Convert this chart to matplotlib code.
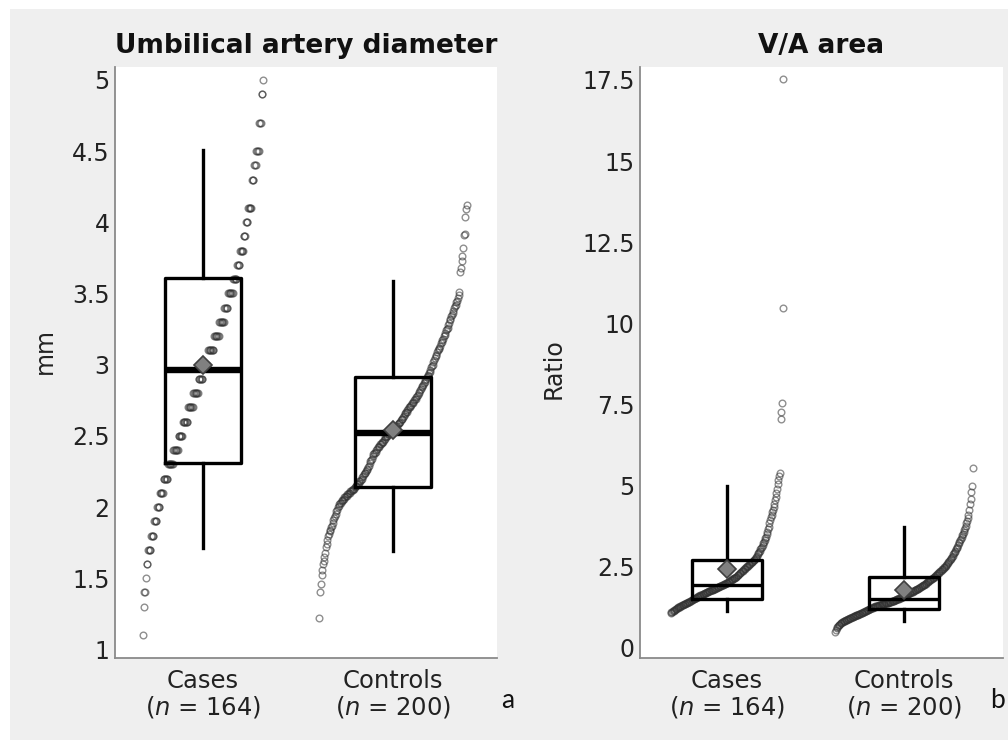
import numpy as np
import matplotlib
matplotlib.use('Agg')
import matplotlib.pyplot as plt
from matplotlib.patches import Rectangle

plt.rcParams['font.family'] = ['DejaVu Sans']
plt.rcParams['mathtext.fontset'] = 'dejavusans'

groups = ['Cases\n($\\it{n}$ = 164)', 'Controls\n($\\it{n}$ = 200)']

# --- umbilical artery diameter (mm), cases: 0.1 mm levels and how many points sit on each
ua_cases_levels = [1.1, 1.3, 1.4, 1.5, 1.6, 1.7, 1.8, 1.9, 2.0, 2.1, 2.2, 2.3, 2.4, 2.5, 2.6, 2.7,
                   2.8, 2.9, 3.0, 3.1, 3.2, 3.3, 3.4, 3.5, 3.6, 3.7, 3.8, 3.9, 4.0, 4.1, 4.3, 4.4,
                   4.5, 4.7, 4.9, 5.0]
ua_cases_counts = [1, 1, 2, 1, 2, 4, 4, 4, 4, 5, 6, 7, 7, 6, 7, 7,
                   7, 6, 7, 8, 7, 7, 5, 7, 5, 4, 5, 3, 3, 5, 3, 3,
                   4, 3, 2, 1]

# --- umbilical artery diameter (mm), controls, sorted
ua_controls = [
    1.22, 1.40, 1.46, 1.52, 1.56, 1.60, 1.62, 1.65, 1.68, 1.72,
    1.74, 1.77, 1.80, 1.81, 1.83, 1.84, 1.86, 1.87, 1.89, 1.91,
    1.92, 1.94, 1.95, 1.97, 1.98, 2.00, 2.01, 2.02, 2.03, 2.03,
    2.04, 2.05, 2.05, 2.06, 2.07, 2.07, 2.08, 2.08, 2.09, 2.09,
    2.10, 2.10, 2.11, 2.11, 2.12, 2.12, 2.13, 2.13, 2.14, 2.15,
    2.15, 2.16, 2.16, 2.17, 2.18, 2.18, 2.19, 2.20, 2.21, 2.22,
    2.23, 2.24, 2.24, 2.25, 2.26, 2.27, 2.28, 2.29, 2.31, 2.32,
    2.33, 2.34, 2.36, 2.37, 2.38, 2.38, 2.39, 2.40, 2.41, 2.42,
    2.42, 2.43, 2.44, 2.44, 2.45, 2.46, 2.46, 2.47, 2.48, 2.49,
    2.49, 2.50, 2.50, 2.51, 2.51, 2.52, 2.52, 2.53, 2.53, 2.54,
    2.54, 2.55, 2.55, 2.56, 2.57, 2.57, 2.58, 2.59, 2.59, 2.60,
    2.61, 2.62, 2.62, 2.63, 2.64, 2.65, 2.66, 2.67, 2.67, 2.68,
    2.69, 2.70, 2.70, 2.71, 2.72, 2.73, 2.73, 2.74, 2.75, 2.76,
    2.76, 2.77, 2.78, 2.79, 2.80, 2.81, 2.82, 2.83, 2.84, 2.85,
    2.86, 2.87, 2.88, 2.89, 2.90, 2.91, 2.92, 2.93, 2.94, 2.95,
    2.96, 2.98, 2.99, 3.00, 3.02, 3.03, 3.05, 3.06, 3.07, 3.09,
    3.10, 3.11, 3.12, 3.13, 3.15, 3.16, 3.17, 3.18, 3.20, 3.21,
    3.22, 3.24, 3.25, 3.26, 3.28, 3.29, 3.31, 3.32, 3.34, 3.35,
    3.36, 3.38, 3.40, 3.41, 3.42, 3.44, 3.45, 3.47, 3.49, 3.51,
    3.65, 3.68, 3.73, 3.76, 3.82, 3.91, 3.92, 4.04, 4.09, 4.12,
]

# --- V/A area ratio, cases, sorted
va_cases = [
    1.07, 1.10, 1.12, 1.14, 1.15, 1.17, 1.18, 1.20, 1.21, 1.22,
    1.24, 1.25, 1.26, 1.27, 1.28, 1.30, 1.31, 1.32, 1.33, 1.34,
    1.35, 1.36, 1.37, 1.38, 1.40, 1.41, 1.42, 1.43, 1.44, 1.45,
    1.47, 1.48, 1.50, 1.51, 1.52, 1.53, 1.54, 1.55, 1.56, 1.58,
    1.59, 1.60, 1.61, 1.62, 1.63, 1.64, 1.65, 1.66, 1.67, 1.68,
    1.69, 1.70, 1.71, 1.72, 1.73, 1.74, 1.75, 1.76, 1.77, 1.78,
    1.79, 1.80, 1.81, 1.82, 1.83, 1.84, 1.85, 1.86, 1.87, 1.88,
    1.89, 1.90, 1.91, 1.92, 1.93, 1.94, 1.95, 1.96, 1.97, 1.98,
    1.99, 2.00, 2.01, 2.03, 2.04, 2.05, 2.07, 2.08, 2.09, 2.11,
    2.12, 2.14, 2.15, 2.17, 2.19, 2.20, 2.22, 2.24, 2.26, 2.28,
    2.30, 2.32, 2.34, 2.36, 2.38, 2.40, 2.42, 2.44, 2.46, 2.48,
    2.50, 2.52, 2.54, 2.56, 2.58, 2.60, 2.62, 2.64, 2.66, 2.68,
    2.70, 2.72, 2.74, 2.77, 2.80, 2.84, 2.88, 2.92, 2.96, 3.00,
    3.04, 3.08, 3.12, 3.17, 3.22, 3.27, 3.32, 3.38, 3.43, 3.50,
    3.57, 3.65, 3.74, 3.85, 3.95, 4.04, 4.10, 4.18, 4.25, 4.35,
    4.45, 4.55, 4.65, 4.77, 4.90, 5.05, 5.18, 5.30, 5.38, 7.05,
    7.28, 7.54, 10.47, 17.52,
]

# --- V/A area ratio, controls, sorted
va_controls = [
    0.50, 0.56, 0.60, 0.64, 0.67, 0.70, 0.72, 0.74, 0.76, 0.78,
    0.79, 0.80, 0.82, 0.83, 0.84, 0.85, 0.86, 0.87, 0.88, 0.89,
    0.90, 0.91, 0.92, 0.93, 0.94, 0.95, 0.96, 0.97, 0.98, 0.99,
    1.00, 1.01, 1.02, 1.03, 1.04, 1.05, 1.06, 1.07, 1.08, 1.09,
    1.10, 1.11, 1.12, 1.13, 1.14, 1.15, 1.16, 1.17, 1.18, 1.19,
    1.20, 1.21, 1.22, 1.23, 1.24, 1.25, 1.26, 1.27, 1.28, 1.28,
    1.29, 1.30, 1.30, 1.31, 1.32, 1.32, 1.33, 1.34, 1.34, 1.35,
    1.36, 1.36, 1.37, 1.38, 1.38, 1.39, 1.40, 1.40, 1.41, 1.42,
    1.42, 1.43, 1.44, 1.45, 1.46, 1.46, 1.47, 1.48, 1.49, 1.50,
    1.51, 1.52, 1.52, 1.53, 1.54, 1.55, 1.56, 1.57, 1.58, 1.59,
    1.60, 1.61, 1.62, 1.63, 1.64, 1.65, 1.66, 1.68, 1.69, 1.70,
    1.71, 1.72, 1.73, 1.75, 1.76, 1.77, 1.78, 1.80, 1.81, 1.82,
    1.83, 1.85, 1.86, 1.87, 1.89, 1.90, 1.91, 1.93, 1.94, 1.95,
    1.97, 1.98, 2.00, 2.02, 2.03, 2.05, 2.07, 2.08, 2.10, 2.12,
    2.13, 2.15, 2.17, 2.19, 2.20, 2.22, 2.24, 2.26, 2.28, 2.30,
    2.32, 2.34, 2.36, 2.38, 2.40, 2.42, 2.44, 2.46, 2.48, 2.50,
    2.53, 2.56, 2.59, 2.62, 2.65, 2.68, 2.71, 2.74, 2.77, 2.80,
    2.84, 2.88, 2.92, 2.96, 3.00, 3.04, 3.08, 3.12, 3.17, 3.22,
    3.27, 3.32, 3.37, 3.42, 3.47, 3.52, 3.58, 3.64, 3.70, 3.77,
    3.84, 3.92, 4.00, 4.10, 4.25, 4.45, 4.60, 4.80, 5.00, 5.55,
]

# box summaries as drawn (whiskers are not min/max)
ua_q1 = [2.31, 2.14]
ua_med = [2.96, 2.52]
ua_q3 = [3.61, 2.91]
ua_lo = [1.71, 1.69]
ua_hi = [4.51, 3.59]
ua_mean = [3.00, 2.54]

va_q1 = [1.50, 1.20]
va_med = [1.95, 1.50]
va_q3 = [2.72, 2.20]
va_lo = [1.15, 0.82]
va_hi = [5.00, 3.72]
va_mean = [2.42, 1.80]

ua_cases = np.repeat(ua_cases_levels, ua_cases_counts)

STEP = 0.0039  # horizontal shift per ranked point
TXT = '#222222'


def panel(ax, series, q1, med, q3, lo, hi, mean, med_lw):
    for i, vals in enumerate(series):
        v = np.sort(np.asarray(vals, dtype=float))
        pos = i + 1 + (np.arange(len(v)) - (len(v) - 1) / 2) * STEP
        ax.plot(pos, v, 'o', ms=4.8, mfc='none', mec='#333333', mew=1.0, alpha=0.55, zorder=2)
    stats = [dict(q1=q1[i], med=med[i], q3=q3[i], whislo=lo[i], whishi=hi[i], mean=mean[i])
             for i in range(2)]
    ax.bxp(stats, positions=[1, 2], widths=0.4, showcaps=False, showfliers=False,
           showmeans=True, patch_artist=False,
           boxprops=dict(color='black', lw=2.4),
           whiskerprops=dict(color='black', lw=2.4),
           medianprops=dict(color='black', lw=med_lw),
           meanprops=dict(marker='D', ms=9, mfc='#808080', mec='#404040', mew=1.2),
           zorder=3)
    ax.set_xticks([1, 2])
    ax.set_xticklabels(groups, fontsize=17.5, color=TXT, linespacing=1.05)
    ax.tick_params(axis='x', length=0, pad=8)
    ax.tick_params(axis='y', length=0, pad=4, labelsize=17, labelcolor=TXT)
    for s in ['top', 'right']:
        ax.spines[s].set_visible(False)
    for s in ['left', 'bottom']:
        ax.spines[s].set_color('#8a8a8a')
        ax.spines[s].set_linewidth(1.3)
    ax.set_facecolor('white')


fig = plt.figure(figsize=(10.08, 7.40), dpi=100, facecolor='white')
fig.patches.append(Rectangle((10 / 1008, 0), 1, 1 - 9 / 740, transform=fig.transFigure,
                             facecolor='#efefef', edgecolor='none', zorder=-10))

ax1 = fig.add_axes([115 / 1008, 1 - 658 / 740, 382 / 1008, 591 / 740])
panel(ax1, [ua_cases, ua_controls], ua_q1, ua_med, ua_q3, ua_lo, ua_hi, ua_mean, 4.6)
ax1.set_xlim(0.537, 2.547)
ax1.set_ylim(0.94, 5.09)
ax1.set_yticks([1, 1.5, 2, 2.5, 3, 3.5, 4, 4.5, 5])
ax1.set_yticklabels(['1', '1.5', '2', '2.5', '3', '3.5', '4', '4.5', '5'])
ax1.set_ylabel('mm', fontsize=17, color=TXT)
ax1.yaxis.set_label_coords(-0.152, 0.52)
ax1.set_title('Umbilical artery diameter', fontsize=19, fontweight='bold', color='#111111', pad=10)

ax2 = fig.add_axes([640 / 1008, 1 - 658 / 740, 363 / 1008, 591 / 740])
panel(ax2, [va_cases, va_controls], va_q1, va_med, va_q3, va_lo, va_hi, va_mean, 2.4)
ax2.set_xlim(0.508, 2.56)
ax2.set_ylim(-0.31, 17.9)
ax2.set_yticks([0, 2.5, 5, 7.5, 10, 12.5, 15, 17.5])
ax2.set_yticklabels(['0', '2.5', '5', '7.5', '10', '12.5', '15', '17.5'])
ax2.set_ylabel('Ratio', fontsize=17, color=TXT)
ax2.yaxis.set_label_coords(-0.204, 0.49)
ax2.set_title('V/A area', fontsize=19, fontweight='bold', color='#111111', pad=10)

fig.text(508 / 1008, 1 - 700 / 740, 'a', fontsize=19, family=['Lato', 'DejaVu Sans'],
         ha='center', va='center', color='#111111')
fig.text(998 / 1008, 1 - 700 / 740, 'b', fontsize=19, family=['Lato', 'DejaVu Sans'],
         ha='center', va='center', color='#111111')

fig.savefig('out.png', dpi=100, facecolor=fig.get_facecolor())
